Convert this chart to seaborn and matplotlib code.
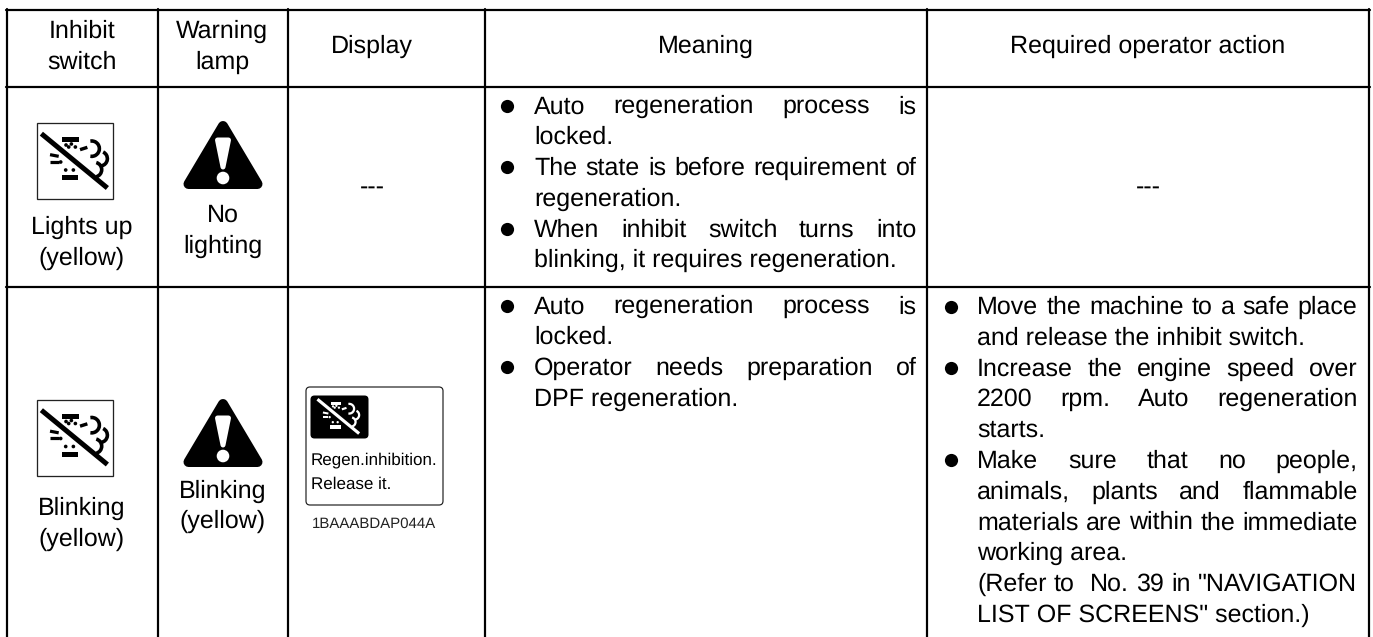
import matplotlib
matplotlib.use("Agg")
import matplotlib.pyplot as plt
import seaborn as sns
from matplotlib.patches import Arc, Circle, FancyBboxPatch, Polygon, Rectangle

# === table text ===
headers = [["Inhibit", "switch"], ["Warning", "lamp"], ["Display"], ["Meaning"], ["Required operator action"]]
switch_states = [["Lights up", "(yellow)"], ["Blinking", "(yellow)"]]
lamp_states = [["No", "lighting"], ["Blinking", "(yellow)"]]
empty_mark = "---"
display_lines = ["Regen.inhibition.", "Release it."]
display_code = "1BAAABDAP044A"

meaning_row1 = [
    ["Auto regeneration process is", "locked."],
    ["The state is before requirement of", "regeneration."],
    ["When inhibit switch turns into", "blinking, it requires regeneration."],
]
meaning_row2 = [
    ["Auto regeneration process is", "locked."],
    ["Operator needs preparation of", "DPF regeneration."],
]
action_row2 = [
    ["Move the machine to a safe place", "and release the inhibit switch."],
    ["Increase the engine speed over", "2200 rpm. Auto regeneration", "starts."],
    ["Make sure that no people,", "animals, plants and flammable", "materials are within the immediate", "working area."],
    ['(Refer to  No. 39 in "NAVIGATION', 'LIST OF SCREENS" section.)'],
]
action_bullets = [True, True, True, False]

# === layout in image pixels ===
col_edges = [7, 157.5, 287.5, 485, 927, 1369]
row_edges = [10, 86.5, 287]
PX = 0.72  # points per pixel at dpi 100
FS = 25 * PX
PITCH = 30.75

sns.set_theme(style="white")
plt.rcParams["font.family"] = ["Liberation Sans", "DejaVu Sans"]
plt.rcParams["text.hinting"] = "no_hinting"
plt.rcParams["text.hinting_factor"] = 1

fig = plt.figure(figsize=(13.73, 6.37), dpi=100)
ax = fig.add_axes([0, 0, 1, 1])

# table rules
for x in col_edges:
    sns.lineplot(x=[x, x], y=[9, 637], estimator=None, color="black", linewidth=2.2 * PX, ax=ax, legend=False)
for y in row_edges:
    sns.lineplot(x=[6, 1370], y=[y, y], estimator=None, color="black", linewidth=2.2 * PX, ax=ax, legend=False)

ax.set_xlim(0, 1373)
ax.set_ylim(637, 0)
ax.axis("off")
renderer = fig.canvas.get_renderer()


def centered(lines, cx, base):
    for i, line in enumerate(lines):
        ax.text(cx, base + i * PITCH, line, ha="center", va="baseline", fontsize=FS, color="black")


def justified(line, left, right, base):
    words = line.split(" ")
    items = [ax.text(left, base, w, ha="left", va="baseline", fontsize=FS, color="black") for w in words]
    widths = [t.get_window_extent(renderer).width if t.get_text() else 0 for t in items]
    gap = (right - left - sum(widths)) / (len(words) - 1)
    x = left
    for t, w in zip(items, widths):
        t.set_x(x)
        x += w + gap


def bullet_block(paragraphs, bullets, left, right, bullet_x, base):
    bx, by = [], []
    n = 0
    for para, has_bullet in zip(paragraphs, bullets):
        if has_bullet:
            bx.append(bullet_x)
            by.append(base + n * PITCH - 7.5)
        for i, line in enumerate(para):
            y = base + n * PITCH
            if i < len(para) - 1:
                justified(line, left, right, y)
            else:
                ax.text(left, y, line, ha="left", va="baseline", fontsize=FS, color="black")
            n += 1
    sns.scatterplot(x=bx, y=by, s=(13.2 * PX) ** 2, color="black", linewidth=0, ax=ax, legend=False)


def inhibit_glyph(x0, y0, size, color):
    # drawn in the 228-unit grid of the icon box
    k = size / 228.0
    lw = size / 76.0 * PX

    def pt(u, v):
        return (x0 + u * k, y0 + v * k)

    def seg(u1, v1, u2, v2, w):
        a, b = pt(u1, v1), pt(u2, v2)
        ax.plot([a[0], b[0]], [a[1], b[1]], color=color, linewidth=w * lw, solid_capstyle="butt")

    seg(14, 32, 212, 195, 5)
    ax.add_patch(Rectangle(pt(77, 43), 50 * k, 15 * k, color=color, lw=0))
    ax.add_patch(Rectangle(pt(75, 156), 50 * k, 15 * k, color=color, lw=0))
    for u, v in [(88, 66), (104, 63), (116, 72), (87, 141), (110, 141), (72, 117), (96, 72)]:
        ax.add_patch(Circle(pt(u, v), 5.5 * k, color=color, lw=0))
    seg(40, 95, 66, 100, 3.2)
    seg(40, 116, 66, 116, 3.2)
    seg(130, 80, 152, 73, 3.4)
    for u, v, r, t1, t2 in [(165, 77, 23, -100, 100), (190, 107, 22, -65, 80), (173, 140, 22, -75, 75)]:
        ax.add_patch(Arc(pt(u, v), 2 * r * k, 2 * r * k, theta1=t1, theta2=t2, color=color, lw=3.6 * lw))


def inhibit_icon(x0, y0):
    ax.add_patch(Rectangle((x0, y0), 76, 76, fill=False, edgecolor="#222222", lw=1.3 * PX))
    inhibit_glyph(x0, y0, 76, "black")


def warning_icon(cx, top):
    ax.add_patch(Polygon([(cx, top + 8), (cx - 34.5, top + 66), (cx + 34.5, top + 66)], closed=True,
                         facecolor="black", edgecolor="black", lw=10 * PX, joinstyle="round"))
    ax.add_patch(Polygon([(cx - 5.5, top + 22), (cx + 5.5, top + 22), (cx, top + 49)], closed=True,
                         facecolor="white", edgecolor="white", lw=5 * PX, joinstyle="round"))
    ax.add_patch(Circle((cx, top + 60), 6.3, color="white", lw=0))


# header row
header_x = [82, 222, 372, 706, 1148]
for lines, cx in zip(headers, header_x):
    centered(lines, cx, 53 if len(lines) == 1 else 38)

# first row
inhibit_icon(36.7, 123)
warning_icon(223, 118)
centered(switch_states[0], 82, 234)
centered(lamp_states[0], 223, 222)
centered([empty_mark], 372, 194)
centered([empty_mark], 1148, 194)
bullet_block(meaning_row1, [True, True, True], 534, 916.5, 507, 113.3)

# second row
inhibit_icon(36.7, 399.5)
warning_icon(223, 396)
centered(switch_states[1], 82, 515)
centered(lamp_states[1], 223, 497.5)
bullet_block(meaning_row2, [True, True], 534, 916.5, 507, 313.3)
bullet_block(action_row2, action_bullets, 977, 1357.5, 950.7, 314)

# display panel
ax.add_patch(FancyBboxPatch((309, 390), 131, 112, boxstyle="round,pad=3,rounding_size=4",
                            facecolor="white", edgecolor="#222222", lw=1.2 * PX))
ax.add_patch(FancyBboxPatch((313, 398), 53, 38, boxstyle="round,pad=2.5,rounding_size=4",
                            facecolor="black", edgecolor="black", lw=0))
inhibit_glyph(314.5, 392.5, 48, "white")
for i, line in enumerate(display_lines):
    ax.text(311, 464 + i * 25, line, ha="left", va="baseline", fontsize=17 * PX, color="black")
ax.text(373.5, 528, display_code, ha="center", va="baseline", fontsize=14.7 * PX, color="#222222")

plt.savefig("out.png", dpi=100)
plt.close()
